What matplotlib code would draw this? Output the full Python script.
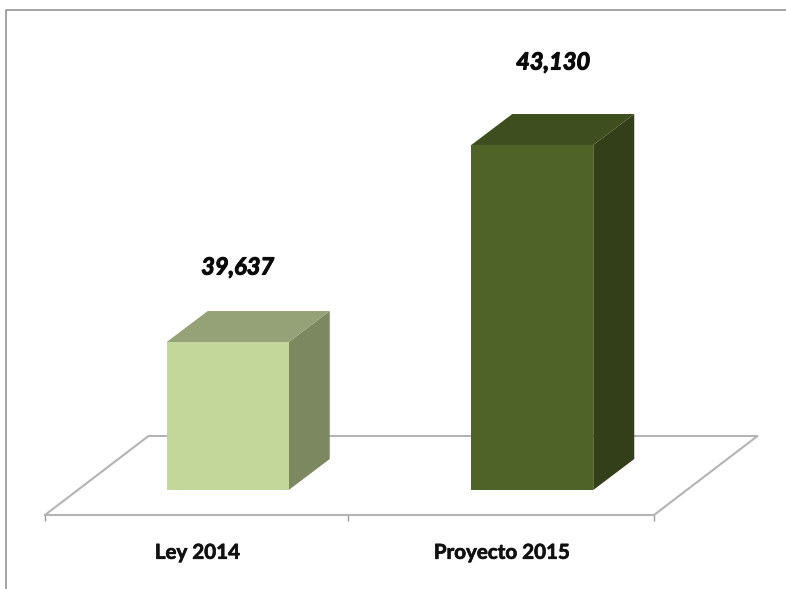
import matplotlib
matplotlib.use("Agg")
import matplotlib.pyplot as plt
import matplotlib.patheffects as pe
from matplotlib.lines import Line2D

categories = ["Ley 2014", "Proyecto 2015"]
values = [39637, 43130]
value_labels = ["39,637", "43,130"]

W, H = 786, 589
front_colors = ["#C4D79B", "#4F6228"]
top_colors = ["#95A177", "#3F4E1E"]
side_colors = ["#7C8860", "#333F18"]
FLOOR = "#B4B4B4"
BORDER = "#8C8C8C"

plt.rcParams["font.family"] = ["Lato", "DejaVu Sans"]

fig = plt.figure(figsize=(W / 100, H / 100), dpi=100, facecolor="white")
L, R, B, T = 45, 654, 515, 10
ax = fig.add_axes([L / W, 1 - B / H, (R - L) / W, (B - T) / H])
ax.patch.set_alpha(0)

y_min, y_max = 36570, 45524
ax.set_xlim(-0.5, 1.5)
ax.set_ylim(y_min, y_max)
px_x = 2.0 / (R - L)
px_y = (y_max - y_min) / (B - T)

base = 37013
bar_shift = 30.5 * px_x
bar_w = 122 * px_x
dx, dy = 41 * px_x, 31 * px_y
floor_dx, floor_dy = 103.5 * px_x, 79 * px_y

# floor
fl = dict(color=FLOOR, lw=1.5, clip_on=False, zorder=1, solid_capstyle="round", solid_joinstyle="round")
ax.plot([-0.5, -0.5 + floor_dx, 1.5 + floor_dx, 1.5],
        [y_min, y_min + floor_dy, y_min + floor_dy, y_min], **fl)

for s in ["top", "left", "right"]:
    ax.spines[s].set_visible(False)
ax.spines["bottom"].set_color(FLOOR)
ax.spines["bottom"].set_linewidth(1.5)
ax.set_yticks([])
ax.set_xticks([-0.5, 0.495, 1.5])
ax.set_xticklabels([])
ax.tick_params(axis="x", which="major", length=4.5, width=1, color="#9A9A9A")
ax.set_xticks(range(len(categories)), minor=True)
cat_labels = ax.set_xticklabels(categories, minor=True, fontsize=14.8, fontweight="bold", color="#111111")
for t in cat_labels:
    t.set_path_effects([pe.withStroke(linewidth=0.5, foreground="#111111")])
ax.tick_params(axis="x", which="minor", length=0, pad=20)

# 3D bars
offsets = [(10, 75), (21, 83)]
for i, v in enumerate(values):
    c = i + bar_shift
    x0, x1 = c - bar_w / 2, c + bar_w / 2
    ax.fill([x1, x1 + dx, x1 + dx, x1], [base, base + dy, v + dy, v],
            color=side_colors[i], lw=0, zorder=3)
    ax.fill([x0, x0 + dx, x1 + dx, x1], [v, v + dy, v + dy, v],
            color=top_colors[i], lw=0, zorder=3)
    ax.bar(c, v - base, width=bar_w, bottom=base, color=front_colors[i], lw=0, zorder=4)
    txt = ax.annotate(value_labels[i], xy=(c, v), xytext=(offsets[i][0] * 0.72, offsets[i][1] * 0.72),
                      textcoords="offset points", ha="center", va="center",
                      fontsize=17, fontweight="bold", fontstyle="italic", color="#0A0A0A")
    txt.set_path_effects([pe.withStroke(linewidth=0.8, foreground="#0A0A0A")])

# chart frame
fig.add_artist(Line2D([6.5 / W, 6.5 / W, 1], [0, 1 - 10 / H, 1 - 10 / H], color=BORDER, lw=1.1))

fig.savefig("out.png", dpi=100, facecolor="white")
